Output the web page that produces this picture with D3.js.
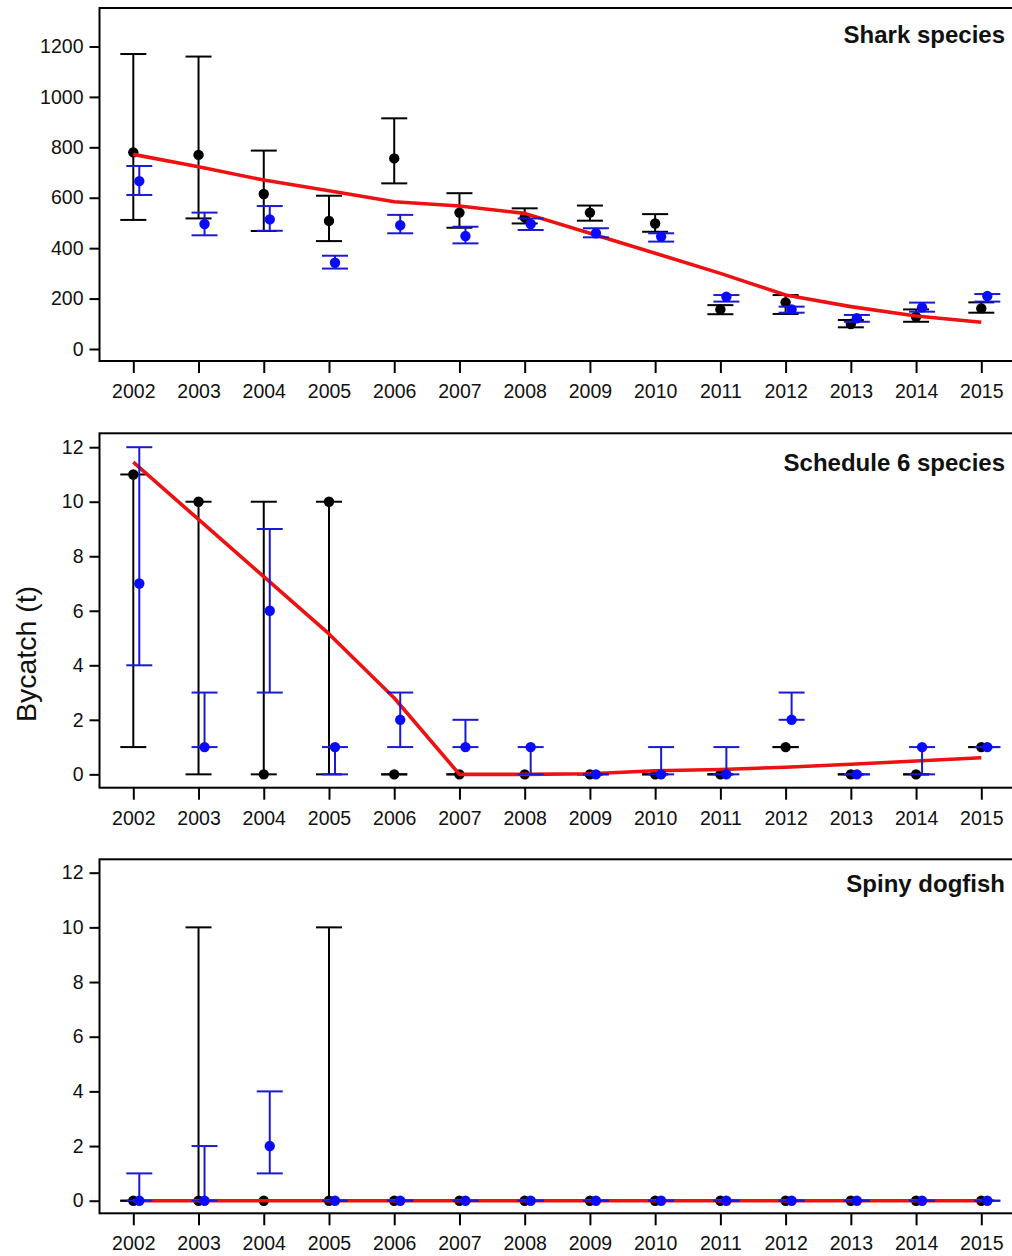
<!DOCTYPE html>
<html>
<head>
<meta charset="utf-8">
<script src="https://cdn.jsdelivr.net/npm/d3@7"></script>
<style>
  html, body { margin: 0; padding: 0; background: #fff; overflow: hidden; }
  svg { display: block; font-family: "Liberation Sans", Arial, Helvetica, sans-serif; }
</style>
</head>
<body>
<svg id="chart" width="1012" height="1256"></svg>
<script>
// ---------- data ----------
const years = [2002, 2003, 2004, 2005, 2006, 2007, 2008, 2009, 2010, 2011, 2012, 2013, 2014, 2015];

const sharkTicks = [0, 200, 400, 600, 800, 1000, 1200];
const sharkBlack   = [780, 770, 615, 508, 756, 541, 522, 541, 498, 157, 185,  99, 128, 161];
const sharkBlackHi = [1170, 1160, 787, 608, 915, 618, 558, 569, 535, 174, 214, 115, 157, 185];
const sharkBlackLo = [512, 518, 468, 428, 657, 481, 498, 509, 465, 138, 139,  86, 108, 144];
const sharkBlue    = [666, 496, 514, 342, 491, 448, 496, 459, 446, 207, 157, 122, 165, 210];
const sharkBlueHi  = [726, 541, 567, 370, 532, 485, 518, 479, 459, 214, 168, 135, 184, 218];
const sharkBlueLo  = [611, 451, 469, 319, 459, 419, 472, 443, 426, 188, 144, 108, 148, 188];
const sharkTrend   = [772, 723, 670, 628, 584, 567, 538, 459, 380, 300, 214, 168, 131, 106];

const smallTicks = [0, 2, 4, 6, 8, 10, 12];
const schedBlack   = [11, 10, 0, 10, 0, 0, 0, 0, 0, 0, 1, 0, 0, 1];
const schedBlackHi = [11, 10, 10, 10, 0, 0, 0, 0, 0, 0, 1, 0, 0, 1];
const schedBlackLo = [1, 0, 0, 0, 0, 0, 0, 0, 0, 0, 1, 0, 0, 1];
const schedBlue    = [7, 1, 6, 1, 2, 1, 1, 0, 0, 0, 2, 0, 1, 1];
const schedBlueHi  = [12, 3, 9, 1, 3, 2, 1, 0, 1, 1, 3, 0, 1, 1];
const schedBlueLo  = [4, 1, 3, 0, 1, 1, 0, 0, 0, 0, 2, 0, 0, 1];
const schedTrend   = [11.45, 9.35, 7.25, 5.15, 2.8, 0.0, 0.0, 0.02, 0.13, 0.18, 0.26, 0.37, 0.49, 0.61];

const dogBlack   = [0, 0, 0, 0, 0, 0, 0, 0, 0, 0, 0, 0, 0, 0];
const dogBlackHi = [0, 10, 0, 10, 0, 0, 0, 0, 0, 0, 0, 0, 0, 0];
const dogBlackLo = [0, 0, 0, 0, 0, 0, 0, 0, 0, 0, 0, 0, 0, 0];
const dogBlue    = [0, 0, 2, 0, 0, 0, 0, 0, 0, 0, 0, 0, 0, 0];
const dogBlueHi  = [1, 2, 4, 0, 0, 0, 0, 0, 0, 0, 0, 0, 0, 0];
const dogBlueLo  = [0, 0, 1, 0, 0, 0, 0, 0, 0, 0, 0, 0, 0, 0];
const dogTrend   = [0, 0, 0, 0, 0, 0, 0, 0, 0, 0, 0, 0, 0, 0];

const panelTitles = ["Shark species", "Schedule 6 species", "Spiny dogfish"];
const yLabel = "Bycatch (t)";

// ---------- layout ----------
const svg = d3.select("#chart");
const boxLeft = 99.5, boxRight = 1015;
const x = d3.scaleLinear().domain([2002, 2015]).range([133.3, 981.3]);
const blueShift = 6, capHalf = 13, ptR = 5.2;
const COL_BLACK = "#000", COL_BLUE_LINE = "#1a1ad0", COL_BLUE_PT = "#0a0aff", COL_RED = "#ee1111";

const panels = [
  { title: panelTitles[0], top: 8, bottom: 361, domain: [-47.6, 1352.6], ticks: sharkTicks, titleY: 43,
    bk: sharkBlack, bkHi: sharkBlackHi, bkLo: sharkBlackLo, bl: sharkBlue, blHi: sharkBlueHi, blLo: sharkBlueLo, tr: sharkTrend },
  { title: panelTitles[1], top: 433.3, bottom: 787.7, domain: [-0.49, 12.51], ticks: smallTicks, titleY: 471,
    bk: schedBlack, bkHi: schedBlackHi, bkLo: schedBlackLo, bl: schedBlue, blHi: schedBlueHi, blLo: schedBlueLo, tr: schedTrend },
  { title: panelTitles[2], top: 859.3, bottom: 1213.3, domain: [-0.46, 12.49], ticks: smallTicks, titleY: 892,
    bk: dogBlack, bkHi: dogBlackHi, bkLo: dogBlackLo, bl: dogBlue, blHi: dogBlueHi, blLo: dogBlueLo, tr: dogTrend }
];

function drawBars(g, y, pts, hi, lo, shift, lineCol, ptCol) {
  const d = years.map((yr, i) => ({ yr, p: pts[i], hi: hi[i], lo: lo[i] }));
  const eb = g.append("g").attr("stroke", lineCol).attr("stroke-width", 2).attr("fill", "none");
  eb.selectAll(".v").data(d).join("line")
    .attr("x1", e => x(e.yr) + shift).attr("x2", e => x(e.yr) + shift)
    .attr("y1", e => y(e.hi)).attr("y2", e => y(e.lo));
  eb.selectAll(".h").data(d).join("line")
    .attr("x1", e => x(e.yr) + shift - capHalf).attr("x2", e => x(e.yr) + shift + capHalf)
    .attr("y1", e => y(e.hi)).attr("y2", e => y(e.hi));
  eb.selectAll(".l").data(d).join("line")
    .attr("x1", e => x(e.yr) + shift - capHalf).attr("x2", e => x(e.yr) + shift + capHalf)
    .attr("y1", e => y(e.lo)).attr("y2", e => y(e.lo));
  g.append("g").selectAll("circle").data(d).join("circle")
    .attr("cx", e => x(e.yr) + shift).attr("cy", e => y(e.p)).attr("r", ptR).attr("fill", ptCol);
}

panels.forEach(p => {
  const y = d3.scaleLinear().domain(p.domain).range([p.bottom, p.top]);
  const g = svg.append("g");

  // black (first series)
  drawBars(g, y, p.bk, p.bkHi, p.bkLo, 0, COL_BLACK, COL_BLACK);

  // red trend
  g.append("path")
    .datum(years.map((yr, i) => [yr, p.tr[i]]))
    .attr("fill", "none").attr("stroke", COL_RED).attr("stroke-width", 3.6)
    .attr("stroke-linejoin", "round")
    .attr("d", d3.line().x(d => x(d[0])).y(d => y(d[1])));

  // blue (second series)
  drawBars(g, y, p.bl, p.blHi, p.blLo, blueShift, COL_BLUE_LINE, COL_BLUE_PT);

  // box
  g.append("rect").attr("x", boxLeft).attr("y", p.top)
    .attr("width", boxRight - boxLeft).attr("height", p.bottom - p.top)
    .attr("fill", "none").attr("stroke", "#000").attr("stroke-width", 2);

  // y axis
  const ya = g.append("g").attr("transform", `translate(${boxLeft},0)`)
    .call(d3.axisLeft(y).tickValues(p.ticks).tickSize(10).tickPadding(6).tickFormat(d3.format("d")));
  ya.select(".domain").remove();
  ya.selectAll(".tick line").attr("stroke", "#000").attr("stroke-width", 2);
  ya.selectAll(".tick text").attr("font-size", 19.5).attr("fill", "#111")
    .attr("font-family", "'Liberation Sans', Arial, sans-serif");

  // x axis
  const xa = g.append("g").attr("transform", `translate(0,${p.bottom})`)
    .call(d3.axisBottom(x).tickValues(years).tickSize(12).tickPadding(11).tickFormat(d3.format("d")));
  xa.select(".domain").remove();
  xa.selectAll(".tick line").attr("stroke", "#000").attr("stroke-width", 2);
  xa.selectAll(".tick text").attr("font-size", 19.5).attr("fill", "#111")
    .attr("font-family", "'Liberation Sans', Arial, sans-serif");

  // title
  g.append("text").attr("x", 1005).attr("y", p.titleY).attr("text-anchor", "end")
    .attr("font-size", 24).attr("font-weight", "bold").attr("fill", "#111")
    .text(p.title);
});

// y-axis label
svg.append("text")
  .attr("transform", "translate(36,654) rotate(-90)")
  .attr("text-anchor", "middle").attr("font-size", 28.5).attr("fill", "#111")
  .text(yLabel);
</script>
</body>
</html>
